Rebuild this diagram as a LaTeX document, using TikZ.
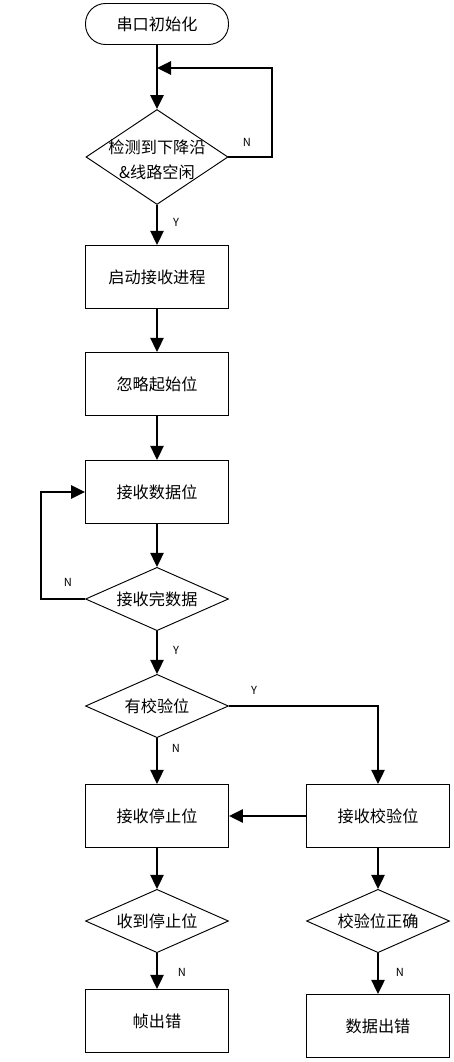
\documentclass[tikz,border=0pt]{standalone}
\usepackage{fontspec}
\newfontfamily\cjk{Noto Sans CJK SC}
\usetikzlibrary{shapes.geometric, arrows.meta}

\begin{document}
\begin{tikzpicture}[x=0.03cm,y=-0.03cm,font=\cjk\fontsize{13.8}{21}\selectfont,
    proc/.style={draw,line width=0.8pt,minimum width=4.29cm,minimum height=1.9cm,inner sep=0pt},
    judge/.style={draw,diamond,line width=0.8pt,minimum width=4.29cm,minimum height=1.9cm,aspect=2.2,inner sep=0pt},
    flow/.style={line width=1.6pt,-{Triangle[length=0.42cm,width=0.4cm]}},
    yn/.style={font=\cjk\fontsize{9.5}{11}\selectfont}]
            \useasboundingbox (0,0) rectangle (454,1062);
            \node[draw,line width=0.8pt,rounded corners=0.6cm,minimum width=4.29cm,minimum height=1.23cm] (init) at (157,24) {串口初始化};
            \node[judge,minimum width=4.26cm,minimum height=2.85cm,
                label={[align=center,yshift=-0.09cm]center:检测到下降沿\\\&线路空闲}] (detect) at (157,157) {};
            \node[proc] (start) at (157,277) {启动接收进程};
            \node[proc] (skip) at (157,384) {忽略起始位};
            \node[proc] (rdata) at (157,492) {接收数据位};
            \node[judge] (done) at (157,599) {接收完数据};
            \node[judge] (haspar) at (157,706) {有校验位};
            \node[proc] (rstop) at (157,816) {接收停止位};
            \node[proc] (rpar) at (378,816) {接收校验位};
            \node[judge] (stopok) at (157,921) {收到停止位};
            \node[judge] (parok) at (378,921) {校验位正确};
            \node[proc] (frerr) at (157,1021) {帧出错};
            \node[proc] (daerr) at (378,1026) {数据出错};
            \coordinate (back) at (157,68);
            \draw[line width=1.6pt] (init.south)--(back);
            \draw[flow] (back)--(detect.north);
            \draw[flow] (detect.east)-|(272,68)--(back);
            \draw[flow] (detect.south)--(start.north);
            \draw[flow] (start.south)--(skip.north);
            \draw[flow] (skip.south)--(rdata.north);
            \draw[flow] (rdata.south)--(done.north);
            \draw[flow] (done.west)--++(-44,0)|-(rdata.west);
            \draw[flow] (done.south)--(haspar.north);
            \draw[flow] (haspar.south)--(rstop.north);
            \draw[flow] (haspar.east)-|(rpar.north);
            \draw[flow] (rpar.west)--(rstop.east);
            \draw[flow] (rstop.south)--(stopok.north);
            \draw[flow] (rpar.south)--(parok.north);
            \draw[flow] (stopok.south)--(frerr.north);
            \draw[flow] (parok.south)--(daerr.north);
            \node[yn] (n1) at (247,142) {N};
            \node[yn] (y1) at (176,222) {Y};
            \node[yn] (n2) at (68,582) {N};
            \node[yn] (y2) at (176,650) {Y};
            \node[yn] (y3) at (254,690) {Y};
            \node[yn] (n3) at (176,748) {N};
            \node[yn] (n4) at (182,972) {N};
            \node[yn] (n5) at (400,972) {N};
        \end{tikzpicture}
\end{document}
